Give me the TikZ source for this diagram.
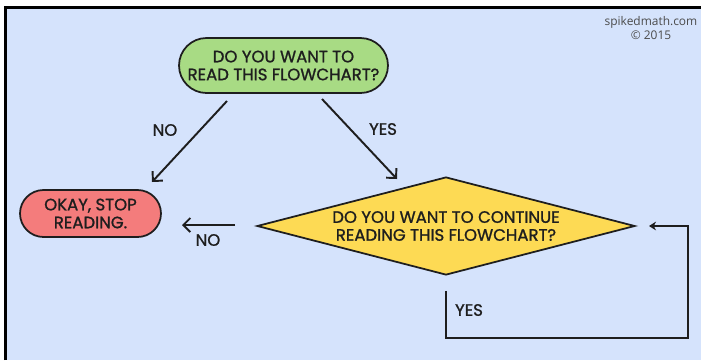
\documentclass[tikz,border=0pt]{standalone}
\usepackage{fontspec}
\setmainfont{Poppins}[FakeBold=1.2,AutoFakeBold=1.2]
\newfontfamily\creditfont{Open Sans}
\usepackage{tikz}
\usetikzlibrary{positioning,arrows.meta,shapes.geometric,shapes.misc}
\usepackage{xcolor}
\definecolor{skyback}{RGB}{213,227,252}
\definecolor{gogreen}{RGB}{168,219,132}
\definecolor{stopred}{RGB}{244,124,124}
\definecolor{askyellow}{RGB}{253,218,84}
\definecolor{ink}{RGB}{30,30,30}

\begin{document}
\begin{tikzpicture}[x=0.02cm, y=-0.02cm,
  pill/.style={rounded rectangle, draw=ink, line width=1pt, align=center, text=ink, inner sep=0pt, font=\bfseries\fontsize{9.4}{10.2}\selectfont},
  rhomb/.style={diamond, draw=ink, line width=1pt, align=center, text=ink, inner sep=0pt, aspect=3.86, minimum width=7.56cm, minimum height=1.96cm, font=\bfseries\fontsize{9.4}{10.2}\selectfont},
  lbl/.style={text=ink, inner sep=0pt, font=\fontsize{9.4}{10}\selectfont},
  arrow/.style={-{Straight Barb[length=4pt, width=8pt]}, line width=1.1pt, draw=ink},
  loopline/.style={-{Stealth[length=4pt, width=5pt]}, line width=1.1pt, draw=ink}
]
\useasboundingbox (0,0) rectangle (701,360);
\fill[skyback] (5,7) rectangle (701,360);
\draw[black, line width=1.7pt] (5.5,360) -- (5.5,7.5) -- (701,7.5);

\node[text=ink!80, align=center, font=\creditfont\fontsize{6.8}{6.5}\selectfont] (credit) at (651,28) {spikedmath.com\\\textcopyright\ 2015};

\node[pill, fill=gogreen, minimum width=4.18cm, minimum height=1.1cm] (read) at (283.5,65.5) {DO YOU WANT TO\\READ THIS FLOWCHART?};
\node[pill, fill=stopred, minimum width=2.82cm, minimum height=0.94cm] (stop) at (90.5,213.5) {OKAY, STOP\\READING.};
\node[rhomb, fill=askyellow] (cont) at (446,226) {DO YOU WANT TO CONTINUE\\READING THIS FLOWCHART?};

\coordinate (noA) at (227,101);
\coordinate (noB) at (152,182);
\coordinate (yesA) at (322,99);
\coordinate (yesB) at (397,179);
\coordinate (backA) at (235,225);
\coordinate (backB) at (182,225);
\coordinate (turn) at (688,338);

\draw[arrow] (noA) -- (noB);
\draw[arrow] (yesA) -- (yesB);
\draw[arrow] (backA) -- (backB);
\draw[loopline, shorten <=8.5pt, shorten >=7.5pt] (cont.south) |- (turn) |- (cont.east);

\node[lbl] (no1) at (165,130) {NO};
\node[lbl] (yes1) at (383,129) {YES};
\node[lbl] (no2) at (208,240) {NO};
\node[lbl] (yes2) at (469,310) {YES};
\end{tikzpicture}
\end{document}
